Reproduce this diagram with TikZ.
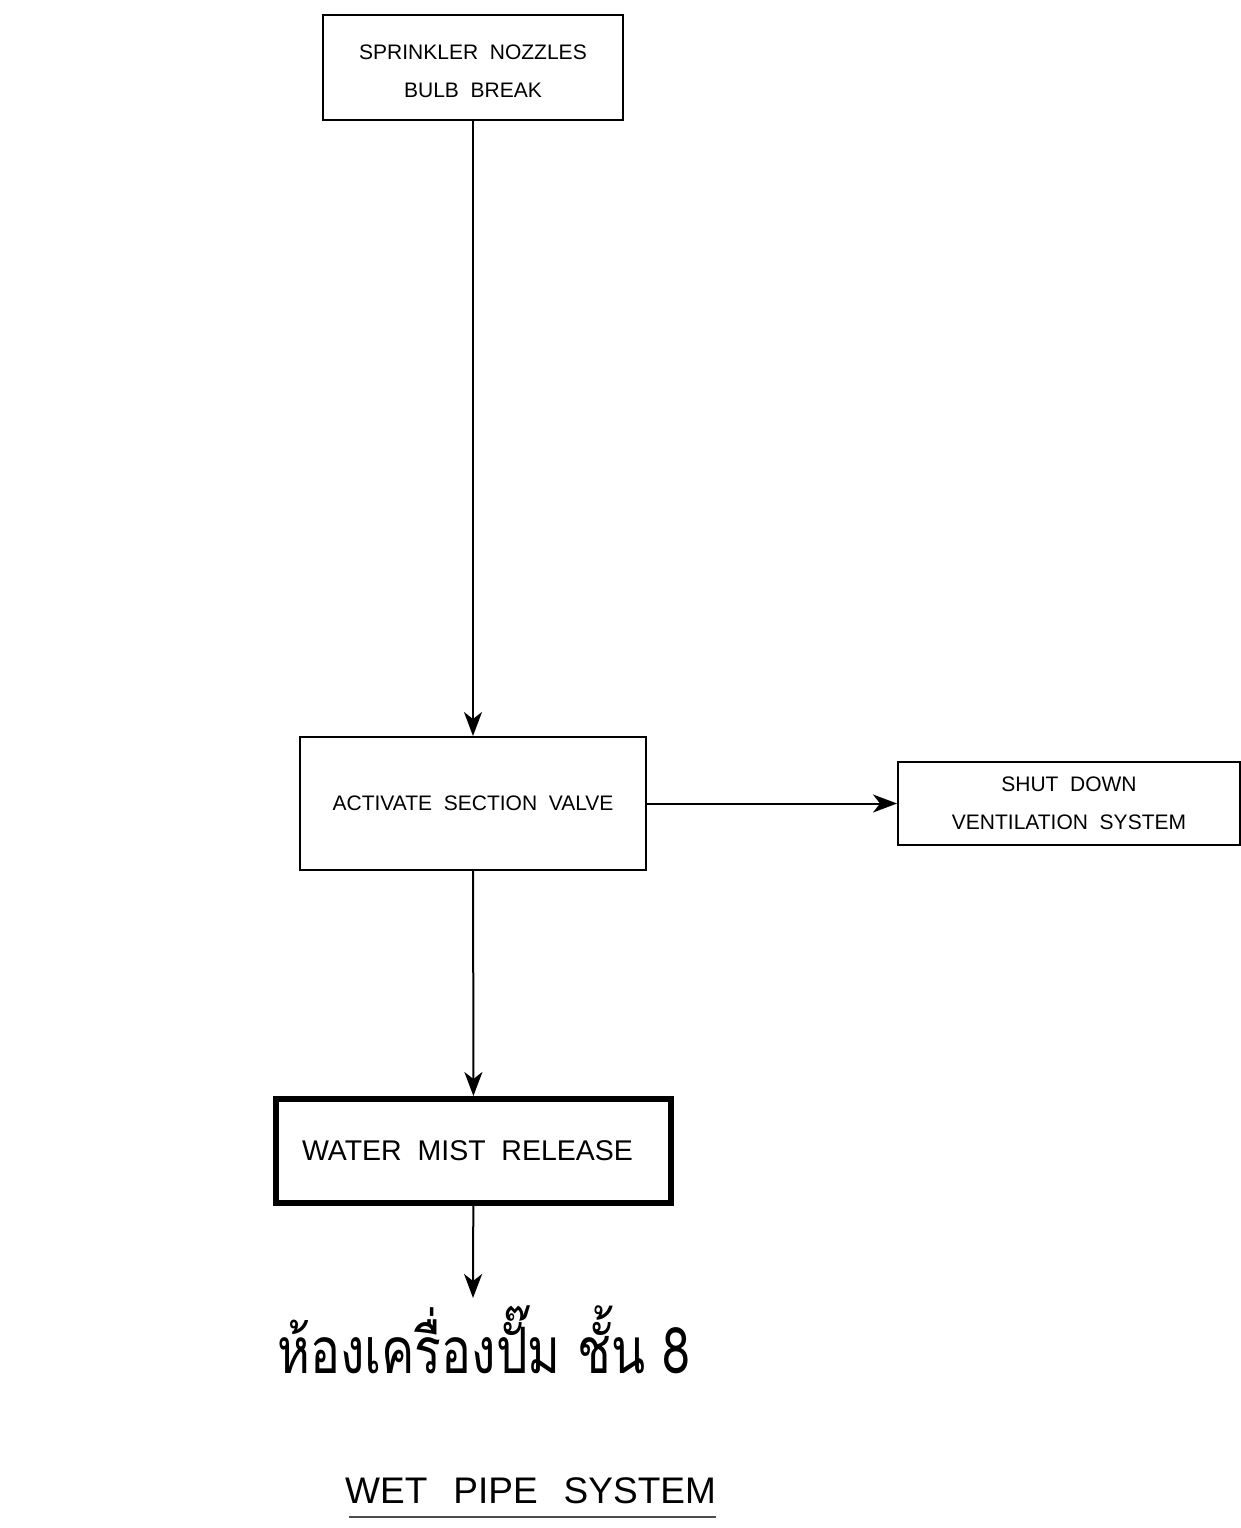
\documentclass[tikz,border=0pt]{standalone}
\usepackage{fontspec}
\setmainfont{Liberation Sans}
\newfontfamily\thaifont[Script=Thai,FakeStretch=0.78]{Loma}
\usetikzlibrary{arrows.meta}
\begin{document}
\begin{tikzpicture}[x=1pt,y=-1pt,
    box/.style={draw,line width=2pt,inner sep=0pt,align=center,
      font=\fontsize{21}{38}\selectfont},
    flow/.style={line width=2pt,-{Stealth[length=24pt,width=18pt,inset=7pt]}}]
  \useasboundingbox (0,0) rectangle (1241,1528);
  \node[box,minimum width=300pt,minimum height=105pt] (nozzle) at (473,67.5)
    {\rule{0pt}{22pt}SPRINKLER\ \ NOZZLES\\BULB\ \ BREAK};
  \node[box,minimum width=346pt,minimum height=133pt] (valve) at (473,803.5)
    {ACTIVATE\ \ SECTION\ \ VALVE};
  \node[box,minimum width=342pt,minimum height=83pt] (fan) at (1069,803.5)
    {SHUT\ \ DOWN\\VENTILATION\ \ SYSTEM};
  \node[box,line width=6pt,minimum width=395pt,minimum height=104pt,
    font=\fontsize{28.5}{36}\selectfont] (release) at (473.5,1151)
    {WATER\ \ MIST\ \ RELEASE\hspace{12pt}};
  \node[anchor=base west,inner sep=0pt,font=\thaifont\fontsize{64}{70}\selectfont]
    (room) at (277,1373) {ห้องเครื่องปั๊ม ชั้น 8};
  \node[anchor=base west,inner sep=0pt,font=\fontsize{37}{40}\selectfont]
    (title) at (345,1503) {WET\hspace{26pt}PIPE\hspace{26pt}SYSTEM};
  \coordinate (tip) at (473,1298);
  \coordinate (ulstart) at (349,1517);
  \coordinate (ulend) at (716,1517);
  \draw[flow] (nozzle) -- (valve);
  \draw[flow] (valve) -- (fan);
  \draw[flow] (valve) -- (release);
  \draw[flow] (release) -- (tip);
  \draw[line width=1.5pt,black!70] (ulstart) -- (ulend);
\end{tikzpicture}
\end{document}
